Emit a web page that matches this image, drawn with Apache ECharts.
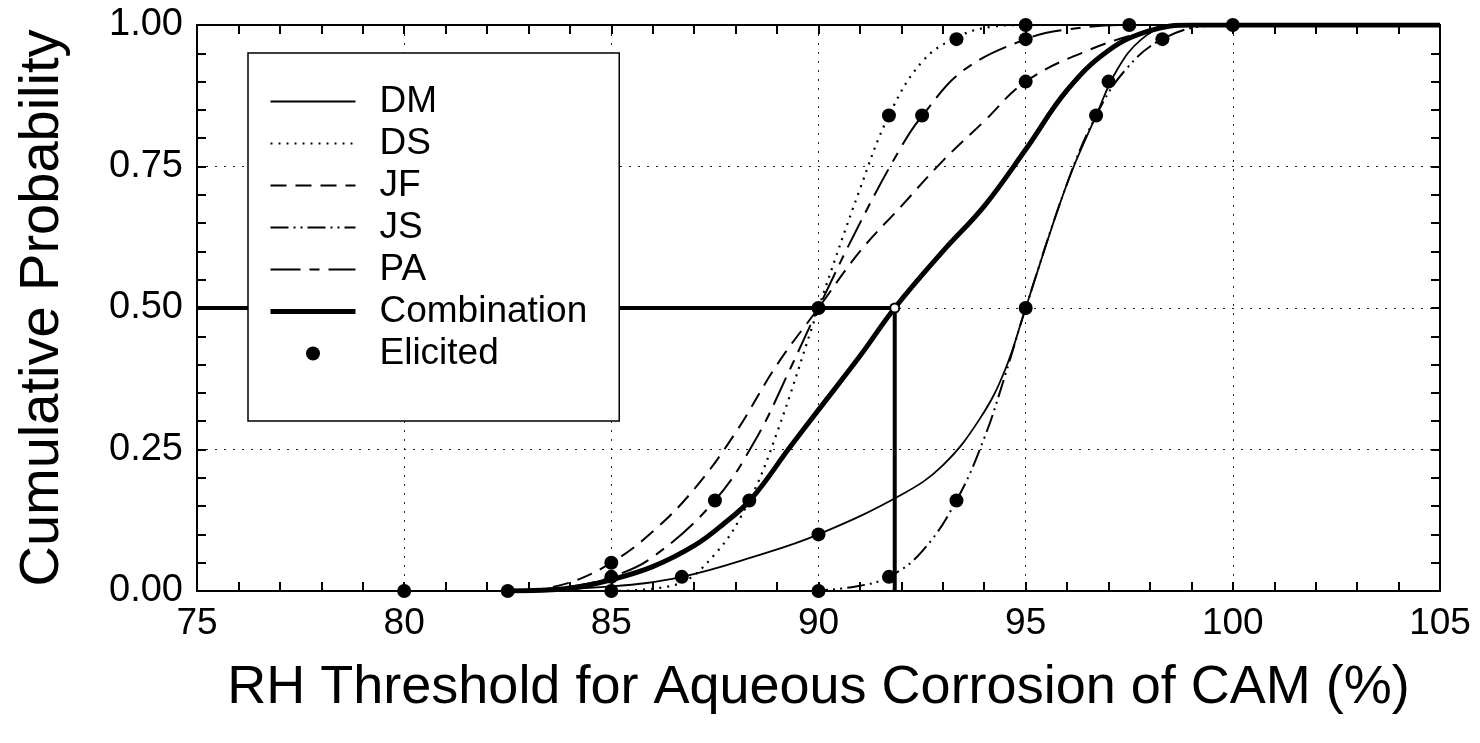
<!DOCTYPE html>
<html><head><meta charset="utf-8">
<script src="https://cdn.jsdelivr.net/npm/echarts@6/dist/echarts.min.js"></script>
<style>html,body{margin:0;padding:0;background:#fff}#c{width:1480px;height:743px}</style>
</head><body><div id="c"></div>
<script>
// ---- data ----
const xTickLabels = ['75','80','85','90','95','100','105'];
const yTickLabels = ['0.00','0.25','0.50','0.75','1.00'];
const legendNames = ['DM','DS','JF','JS','PA','Combination','Elicited'];

const dm = [[82.5,0],[85,0.008],[86.7,0.025],[88.5,0.062],[90,0.10],[92,0.17],[93,0.222],[93.9,0.305],[94.5,0.39],[95,0.5],[96,0.72],[96.7,0.84],[97.2,0.92],[97.8,0.975],[98.5,0.998],[99.5,1.0],[105,1.0]];
const ds = [[85,0],[86.5,0.01],[87.5,0.065],[88.33,0.16],[89,0.28],[90,0.5],[91,0.71],[91.7,0.84],[92.5,0.935],[93.33,0.978],[94.2,0.997],[95,1.0],[105,1.0]];
const jf = [[83,0],[84,0.015],[85,0.05],[86,0.105],[87,0.18],[88,0.28],[89,0.40],[90,0.5],[91,0.6],[92,0.68],[93,0.76],[94,0.83],[95,0.9],[96.5,0.955],[98,0.99],[99,1.0],[105,1.0]];
const js = [[89.8,0],[90.9,0.008],[91.7,0.025],[92.5,0.07],[93.33,0.16],[94,0.27],[94.5,0.38],[95,0.5],[96,0.72],[96.7,0.84],[97.4,0.92],[98.3,0.975],[99.5,0.999],[100.5,1.0],[105,1.0]];
const pa = [[82.5,0],[84,0.008],[85,0.025],[86,0.06],[87.5,0.16],[88.5,0.27],[89.3,0.39],[90,0.5],[91,0.65],[92,0.785],[92.53,0.842],[93.5,0.92],[95,0.975],[96,0.992],[97.5,1.0],[105,1.0]];
const combo = [[82.5,0],[84,0.005],[85,0.02],[86,0.043],[87,0.08],[87.7,0.118],[88.38,0.163],[89.3,0.253],[90,0.32],[91,0.415],[91.84,0.5],[93,0.6],[94,0.68],[95,0.78],[96,0.885],[97,0.955],[98,0.99],[99,1.0],[105,1.0]];

const eliX = [80,82.5,85,85,85,86.7,87.5,88.33,90,90,90,91.7,91.7,92.5,93.33,93.33,95,95,95,95,96.7,97,97.5,98.3,100];
const eliP = [0,0,0.05,0.025,0,0.025,0.16,0.16,0.5,0.10,0,0.025,0.84,0.84,0.16,0.975,0.5,0.9,0.975,1.0,0.84,0.9,1.0,0.975,1.0];

const medianX = 91.84;
const medianP = 0.5;
const axisMinX = 75;

// ---- chart ----
const FONT = 'Liberation Sans, Arial, sans-serif';
const chart = echarts.init(document.getElementById('c'), null, {renderer:'canvas'});
const lineS = (name, data, type, width) => ({
  name, type:'line', data, symbol:'none', smooth:0.4,
  lineStyle:{color:'#000', width, type}, itemStyle:{color:'#000'}, z:2
});
const gridLineStyle = {show:true, lineStyle:{color:'#222', width:1, type:[2,7]}};
const noDot = {color:'rgba(0,0,0,0)', borderWidth:0, opacity:0};

chart.setOption({
  animation:false,
  backgroundColor:'#fff',
  grid:{left:197, right:40, top:25, bottom:152},
  xAxis:[{
    type:'value', min:75, max:105, interval:5, position:'bottom',
    axisLine:{show:true, onZero:false, lineStyle:{color:'#000', width:2}},
    axisTick:{show:true, inside:true, length:9, lineStyle:{color:'#000', width:2}},
    minorTick:{show:true, splitNumber:5, length:9, lineStyle:{color:'#000', width:2}},
    splitLine:gridLineStyle,
    axisLabel:{margin:14, fontSize:37, fontFamily:FONT, color:'#000',
      formatter:(v)=>xTickLabels[Math.round((v-75)/5)]},
    name:'RH Threshold for Aqueous Corrosion of CAM (%)', nameLocation:'middle', nameGap:70,
    nameTextStyle:{fontSize:54, fontFamily:FONT, color:'#000'}
  },{
    type:'value', min:75, max:105, interval:5, position:'top',
    axisLine:{show:true, onZero:false, lineStyle:{color:'#000', width:2}},
    axisTick:{show:true, inside:true, length:9, lineStyle:{color:'#000', width:2}},
    minorTick:{show:true, splitNumber:5, length:9, lineStyle:{color:'#000', width:2}},
    splitLine:{show:false}, axisLabel:{show:false}
  }],
  yAxis:[{
    type:'value', min:0, max:1, interval:0.25, position:'left',
    axisLine:{show:true, onZero:false, lineStyle:{color:'#000', width:2}},
    axisTick:{show:true, inside:true, length:9, lineStyle:{color:'#000', width:2}},
    minorTick:{show:true, splitNumber:5, length:9, lineStyle:{color:'#000', width:2}},
    splitLine:gridLineStyle,
    axisLabel:{margin:14, fontSize:38, fontFamily:FONT, color:'#000',
      formatter:(v)=>yTickLabels[Math.round(v/0.25)]},
    name:'Cumulative Probability', nameLocation:'middle', nameGap:126,
    nameTextStyle:{fontSize:56, fontFamily:FONT, color:'#000'}
  },{
    type:'value', min:0, max:1, interval:0.25, position:'right',
    axisLine:{show:true, onZero:false, lineStyle:{color:'#000', width:2}},
    axisTick:{show:true, inside:true, length:9, lineStyle:{color:'#000', width:2}},
    minorTick:{show:true, splitNumber:5, length:9, lineStyle:{color:'#000', width:2}},
    splitLine:{show:false}, axisLabel:{show:false}
  }],
  legend:{
    orient:'vertical', left:248, top:53,
    data:legendNames.map(n => n === 'Elicited'
      ? {name:n}
      : {name:n, itemStyle:noDot, lineStyle:{width: n === 'Combination' ? 5 : 2}}),
    backgroundColor:'#fff', borderColor:'#000', borderWidth:1.5,
    padding:[30,32,49,20], itemWidth:85, itemHeight:14, itemGap:5,
    textStyle:{fontSize:37, fontFamily:FONT, color:'#000', padding:[0,0,0,19]},
    z:10
  },
  series:[
    {name:'median', type:'line', symbol:'none', silent:true,
      data:[[axisMinX,medianP],[medianX,medianP],[medianX,0]],
      lineStyle:{color:'#000', width:4}, z:1},
    lineS('DM', dm, 'solid', 1.8),
    lineS('DS', ds, [2,6], 2.2),
    lineS('JF', jf, [16,9], 2),
    lineS('JS', js, [18,5,2,5,2,5], 2),
    lineS('PA', pa, [30,9,10,9], 2),
    lineS('Combination', combo, 'solid', 5),
    {name:'Elicited', type:'scatter', symbol:'circle', symbolSize:14,
      data:eliX.map((x,i)=>[x,eliP[i]]), itemStyle:{color:'#000', opacity:1}, z:5},
    {name:'medianMark', type:'scatter', symbol:'circle', symbolSize:9,
      data:[[medianX,medianP]], itemStyle:{color:'#fff', borderColor:'#000', borderWidth:2, opacity:1}, z:6}
  ]
});
</script></body></html>
